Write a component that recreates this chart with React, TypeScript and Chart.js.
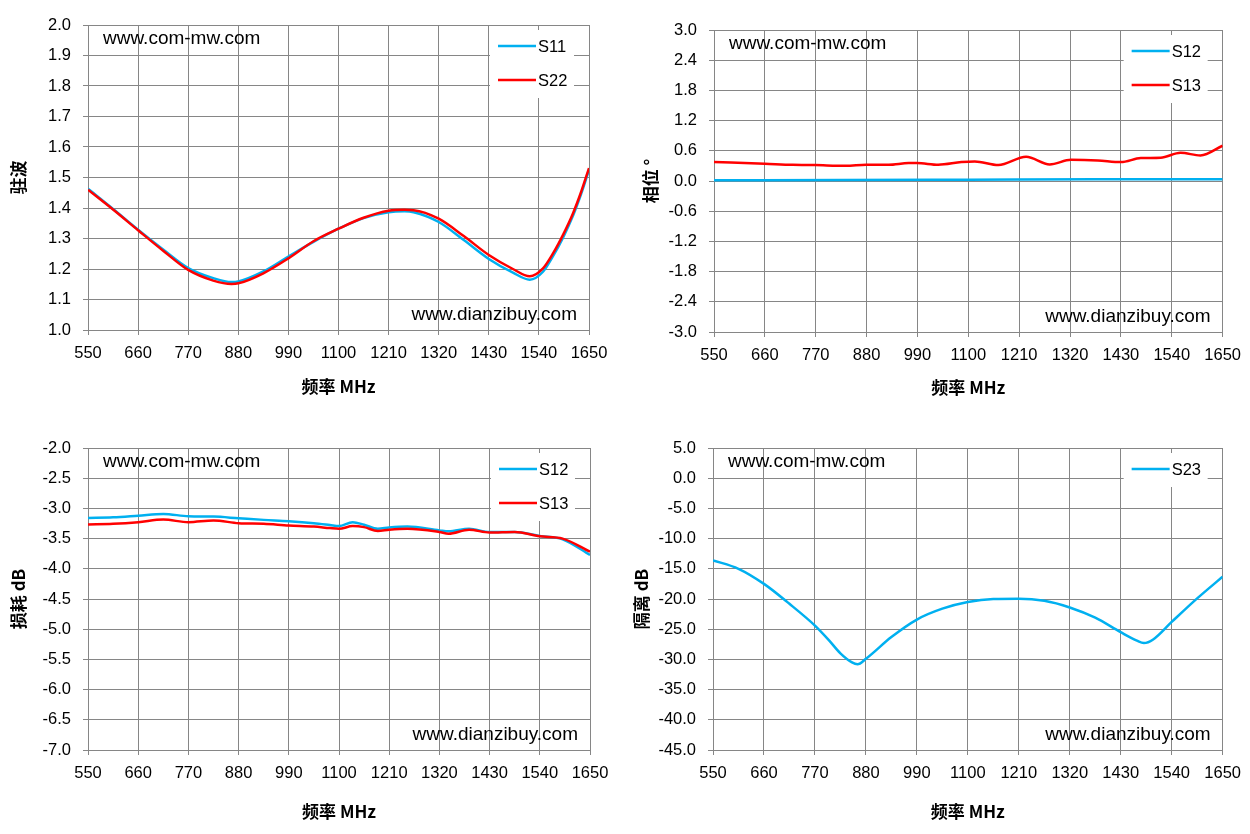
import React, { useEffect, useRef } from "react";
import { Chart, registerables } from "chart.js";

Chart.register(...registerables);

// ---------- shared axis ----------
const FREQ_MIN = 550;
const FREQ_MAX = 1650;
const FREQ_STEP = 110;
const X_TITLE = "频率 MHz";

// ---------- chart 1 : VSWR ----------
const vswrFreq = [550, 605, 660, 715, 770, 825, 865, 880, 935, 990, 1045, 1100, 1155, 1210, 1245, 1265, 1320, 1375, 1430, 1483, 1520, 1549, 1571, 1593, 1615, 1633, 1650];
const vswrS11 = [1.463, 1.397, 1.329, 1.264, 1.203, 1.170, 1.157, 1.159, 1.192, 1.241, 1.289, 1.332, 1.367, 1.386, 1.389, 1.386, 1.354, 1.295, 1.233, 1.188, 1.165, 1.191, 1.242, 1.303, 1.375, 1.447, 1.525];
const vswrS22 = [1.460, 1.395, 1.327, 1.260, 1.197, 1.162, 1.151, 1.153, 1.186, 1.235, 1.291, 1.332, 1.368, 1.391, 1.394, 1.393, 1.365, 1.308, 1.246, 1.200, 1.176, 1.202, 1.251, 1.312, 1.383, 1.454, 1.531];

// ---------- chart 2 : phase ----------
const phaseS12Freq = [550, 825, 1100, 1375, 1650];
const phaseS12 = [0.015, 0.018, 0.025, 0.033, 0.035];
const phaseS13Freq = [550, 660, 720, 769, 835, 879, 928, 971, 989, 1035, 1085, 1114, 1165, 1225, 1276, 1322, 1380, 1430, 1473, 1516, 1559, 1602, 1650];
const phaseS13 = [0.376, 0.343, 0.323, 0.316, 0.303, 0.323, 0.323, 0.356, 0.356, 0.323, 0.376, 0.389, 0.316, 0.481, 0.330, 0.422, 0.409, 0.376, 0.455, 0.462, 0.560, 0.508, 0.700];

// ---------- chart 3 : insertion loss ----------
const lossFreq = [550, 605, 660, 715, 770, 825, 880, 935, 990, 1045, 1080, 1100, 1130, 1155, 1185, 1210, 1250, 1320, 1340, 1385, 1430, 1485, 1540, 1590, 1650];
const lossS12 = [-3.158, -3.147, -3.120, -3.092, -3.130, -3.136, -3.163, -3.190, -3.212, -3.245, -3.275, -3.293, -3.228, -3.270, -3.337, -3.315, -3.300, -3.364, -3.380, -3.337, -3.390, -3.390, -3.457, -3.510, -3.770];
const lossS13 = [-3.266, -3.255, -3.228, -3.185, -3.228, -3.200, -3.245, -3.255, -3.283, -3.300, -3.326, -3.337, -3.293, -3.310, -3.375, -3.353, -3.337, -3.390, -3.418, -3.353, -3.400, -3.390, -3.462, -3.500, -3.717];

// ---------- chart 4 : isolation ----------
const isoFreq = [550, 605, 660, 715, 770, 800, 825, 850, 862, 880, 935, 990, 1045, 1100, 1155, 1210, 1265, 1320, 1375, 1430, 1465, 1480, 1500, 1540, 1595, 1650];
const isoS23 = [-13.6, -15.0, -17.5, -20.8, -24.4, -26.8, -29.0, -30.5, -30.8, -29.9, -26.3, -23.4, -21.6, -20.5, -20.0, -19.95, -20.3, -21.4, -23.1, -25.5, -26.9, -27.3, -26.7, -23.8, -19.9, -16.3];

const BLUE = "#00B0F0";
const RED = "#FF0000";
const GRID = "#868686";
const LATIN = '"Liberation Sans", Arial, sans-serif';
const CJK = '"Noto Sans CJK SC", sans-serif';

type Series = { label: string; freq: number[]; values: number[]; color: string; order: number };
type Spec = {
  left: number; top: number;
  area: { l: number; r: number; t: number; b: number };
  yMin: number; yMax: number; yStep: number;
  yTitle: string; yTitlePad: number; xTitlePad: number;
  series: Series[];
};

const W = 625;
const H = 417;

const specs: Spec[] = [
  {
    left: 0, top: 0, area: { l: 88, r: 589, t: 25, b: 330 },
    yMin: 1.0, yMax: 2.0, yStep: 0.1, yTitle: "驻波", yTitlePad: 8, xTitlePad: 20,
    series: [
      { label: "S11", freq: vswrFreq, values: vswrS11, color: BLUE, order: 2 },
      { label: "S22", freq: vswrFreq, values: vswrS22, color: RED, order: 1 },
    ],
  },
  {
    left: W, top: 0, area: { l: 89, r: 600, t: 30, b: 332 },
    yMin: -3.0, yMax: 3.0, yStep: 0.6, yTitle: "相位 °", yTitlePad: 15, xTitlePad: 19,
    series: [
      { label: "S12", freq: phaseS12Freq, values: phaseS12, color: BLUE, order: 2 },
      { label: "S13", freq: phaseS13Freq, values: phaseS13, color: RED, order: 1 },
    ],
  },
  {
    left: 0, top: H, area: { l: 88, r: 590, t: 31, b: 333 },
    yMin: -7.0, yMax: -2.0, yStep: 0.5, yTitle: "损耗 dB", yTitlePad: 8, xTitlePad: 12,
    series: [
      { label: "S12", freq: lossFreq, values: lossS12, color: BLUE, order: 2 },
      { label: "S13", freq: lossFreq, values: lossS13, color: RED, order: 1 },
    ],
  },
  {
    left: W, top: H, area: { l: 88, r: 599, t: 31, b: 333 },
    yMin: -45.0, yMax: 5.0, yStep: 5, yTitle: "隔离 dB", yTitlePad: 6, xTitlePad: 12,
    series: [
      { label: "S23", freq: isoFreq, values: isoS23, color: BLUE, order: 1 },
    ],
  },
];

const boxLegend = {
  id: "boxLegend",
  afterDraw(chart: any) {
    const { ctx, chartArea } = chart;
    const ds = chart.data.datasets;
    const right = chartArea.right - 15;
    const left = right - 84;
    const y0 = chartArea.top + 21;
    const dy = 34;
    const top = chartArea.top + 5;
    const bottom = y0 + (ds.length - 1) * dy + 18;
    ctx.save();
    ctx.fillStyle = "#fff";
    ctx.fillRect(left, top, right - left, bottom - top);
    ds.forEach((d: any, i: number) => {
      const y = y0 + i * dy;
      ctx.strokeStyle = d.borderColor;
      ctx.lineWidth = 2.5;
      ctx.beginPath();
      ctx.moveTo(left + 8, y);
      ctx.lineTo(left + 46, y);
      ctx.stroke();
      ctx.fillStyle = "#000";
      ctx.font = `16.5px ${LATIN}`;
      ctx.textAlign = "left";
      ctx.textBaseline = "middle";
      ctx.fillText(d.label, left + 48, y + 1);
    });
    ctx.restore();
  },
};

const watermarks = {
  id: "watermarks",
  afterDraw(chart: any) {
    const { ctx, chartArea } = chart;
    ctx.save();
    ctx.fillStyle = "#000";
    ctx.font = `19px ${LATIN}`;
    ctx.textBaseline = "middle";
    ctx.textAlign = "left";
    ctx.fillText("www.com-mw.com", chartArea.left + 15, chartArea.top + 14);
    ctx.textAlign = "right";
    ctx.fillText("www.dianzibuy.com", chartArea.right - 12, chartArea.bottom - 15);
    ctx.restore();
  },
};

function fmt1(v: number) {
  const n = Math.abs(v) < 1e-9 ? 0 : v;
  return n.toFixed(1);
}

function Panel({ spec }: { spec: Spec }) {
  const ref = useRef<HTMLCanvasElement>(null);
  useEffect(() => {
    const { area } = spec;
    const chart = new Chart(ref.current!, {
      type: "line",
      data: {
        datasets: spec.series.map((s) => ({
          label: s.label,
          data: s.freq.map((f, i) => ({ x: f, y: s.values[i] })),
          borderColor: s.color,
          backgroundColor: s.color,
          borderWidth: 2.5,
          pointRadius: 0,
          cubicInterpolationMode: "monotone" as const,
          order: s.order,
          fill: false,
        })),
      },
      options: {
        animation: false,
        responsive: false,
        events: [],
        layout: { padding: { left: 0, top: area.t, right: W - area.r, bottom: 0 } },
        plugins: { legend: { display: false }, tooltip: { enabled: false } },
        scales: {
          x: {
            type: "linear",
            min: FREQ_MIN,
            max: FREQ_MAX,
            afterFit: (s: any) => { s.height = H - area.b; },
            ticks: {
              stepSize: FREQ_STEP,
              autoSkip: false,
              maxRotation: 0,
              padding: 9,
              color: "#000",
              font: { family: LATIN, size: 16.5 },
              callback: (v: any) => String(Math.round(Number(v))),
            },
            grid: { color: GRID, lineWidth: 1, tickLength: 5, drawTicks: true },
            border: { color: GRID, width: 1 },
            title: {
              display: true,
              text: X_TITLE,
              color: "#000",
              font: { family: CJK, size: 17, weight: "bold" },
              padding: { top: 0, bottom: spec.xTitlePad },
            },
          },
          y: {
            type: "linear",
            min: spec.yMin,
            max: spec.yMax,
            afterFit: (s: any) => { s.width = area.l; },
            ticks: {
              stepSize: spec.yStep,
              autoSkip: false,
              padding: 12,
              color: "#000",
              font: { family: LATIN, size: 16.5 },
              callback: (v: any) => fmt1(Number(v)),
            },
            grid: { color: GRID, lineWidth: 1, tickLength: 5, drawTicks: true },
            border: { color: GRID, width: 1 },
            title: {
              display: true,
              text: spec.yTitle,
              color: "#000",
              font: { family: CJK, size: 17, weight: "bold" },
              padding: { top: spec.yTitlePad, bottom: 0 },
            },
          },
        },
      },
      plugins: [watermarks, boxLegend],
    } as any);
    return () => chart.destroy();
  }, [spec]);
  return (
    <canvas
      ref={ref}
      width={W}
      height={H}
      style={{ position: "absolute", left: spec.left, top: spec.top, width: W, height: H }}
    />
  );
}

export default function App() {
  return (
    <div style={{ position: "absolute", left: 0, top: 0, width: 1250, height: 834, background: "#fff" }}>
      {specs.map((s, i) => (
        <Panel key={i} spec={s} />
      ))}
    </div>
  );
}
